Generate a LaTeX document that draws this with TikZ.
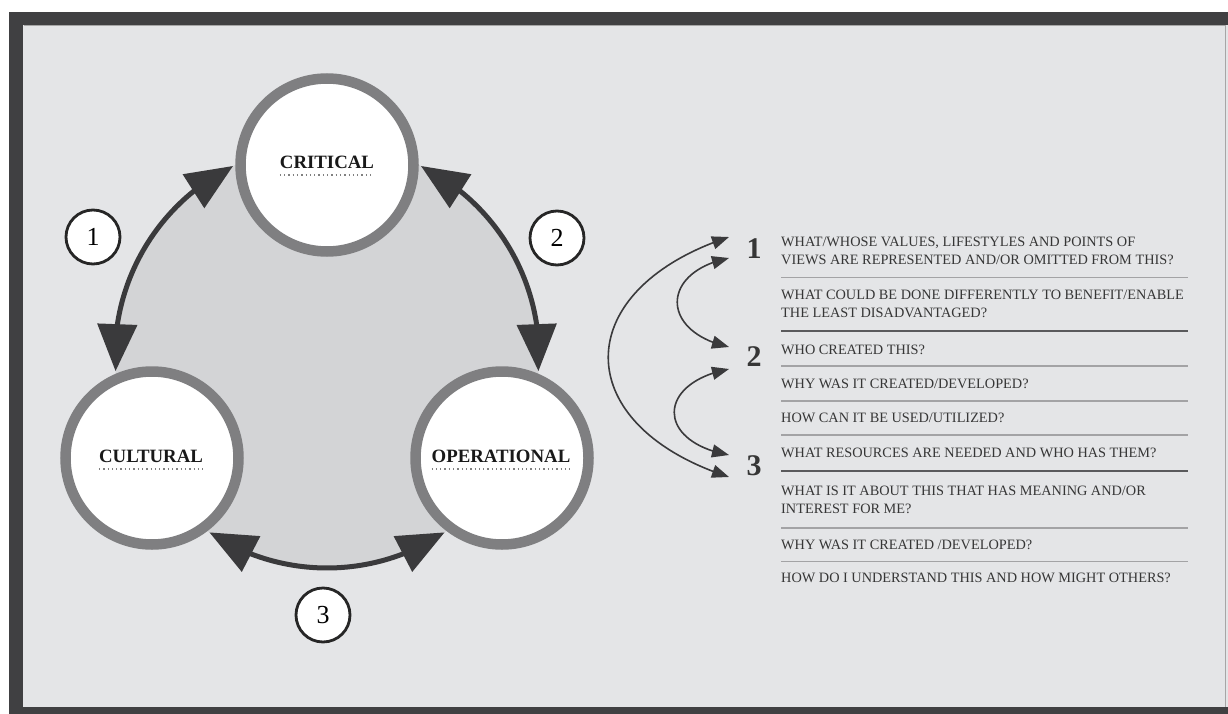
\documentclass[tikz,border=0pt]{standalone}
\usepackage{fontspec}
\setmainfont{Liberation Serif}
\usetikzlibrary{arrows.meta,bending,calc}
\definecolor{framec}{HTML}{404042}
\definecolor{bgc}{HTML}{E4E5E7}
\definecolor{discc}{HTML}{D3D4D6}
\definecolor{ringc}{HTML}{7F7F81}
\definecolor{arrc}{HTML}{3A3A3C}
\definecolor{txtc}{HTML}{363636}
\definecolor{sepc}{HTML}{A3A3A5}
\definecolor{dsepc}{HTML}{5A5A5C}
\begin{document}
\begin{tikzpicture}[x=1pt,y=-1pt,
  bigc/.style={circle,draw=ringc,line width=10.5pt,fill=white,minimum size=173pt,inner sep=0pt},
  lbl/.style={font=\fontsize{18.8}{22}\selectfont\bfseries,text=black!90,inner sep=0pt},
  dotu/.style={draw=black!50,line width=1.3pt,dash pattern=on 1.3pt off 3pt},
  bigarr/.style={draw=arrc,line width=5pt,{Triangle[length=47pt,width=39pt]}-{Triangle[length=47pt,width=39pt]}},
  numc/.style={circle,draw=black!85,line width=2.8pt,fill=white,minimum size=54pt,inner sep=0pt,font=\fontsize{26}{28}\selectfont},
  qtxt/.style={anchor=base west,font=\fontsize{14.3}{16}\selectfont,text=txtc,inner sep=0pt},
  qnum/.style={font=\fontsize{30}{32}\selectfont\bfseries,text=txtc,inner sep=0pt},
  sepl/.style={draw=sepc,line width=1.2pt},
  dsepl/.style={draw=dsepc,line width=2pt},
  qarr/.style={draw=arrc,line width=1.6pt,{Triangle[length=17pt,width=13pt]}-{Triangle[length=17pt,width=13pt]}}]
\useasboundingbox (0,0) rectangle (1228,714);
% frame
\fill[white] (0,0) rectangle (1228,714);
\fill[framec] (9,12) rectangle (1228,714);
\fill[bgc] (23,25) rectangle (1228,707);
\draw[black!35,line width=1pt] (23.5,25.5) -- (1225,25.5) -- (1225,707);
% central disc and arcs (y axis points down, so angles are negated)
\coordinate (C) at (327,356);
\fill[discc] (C) circle (212);
\draw[bigarr] ($(C)+(-116.3:212)$) arc[start angle=-116.3,end angle=-184.1,radius=212];
\draw[bigarr] ($(C)+(-63.7:212)$) arc[start angle=-63.7,end angle=4.1,radius=212];
\draw[bigarr] ($(C)+(56.3:212)$) arc[start angle=56.3,end angle=123.7,radius=212];
% circles
\node[bigc] (crit) at (327,165) {};
\node[bigc] (cult) at (152,458) {};
\node[bigc] (oper) at (502,458) {};
\node[lbl] (critl) at (327,162) {CRITICAL};
\node[lbl] (cultl) at (151,456) {CULTURAL};
\node[lbl] (operl) at (501,456) {OPERATIONAL};
\draw[dotu] ([yshift=-7pt]critl.base west) -- ([yshift=-7pt]critl.base east);
\draw[dotu] ([yshift=-7pt]cultl.base west) -- ([yshift=-7pt]cultl.base east);
\draw[dotu] ([yshift=-7pt]operl.base west) -- ([yshift=-7pt]operl.base east);
% numbered circles
\node[numc] (n1) at (93,237) {1};
\node[numc] (n2) at (557,238) {2};
\node[numc] (n3) at (323,615) {3};
% right side numbers and arrows
\node[qnum] (q1) at (754,249) {1};
\node[qnum] (q2) at (754,357) {2};
\node[qnum] (q3) at (754,466) {3};
\coordinate (t1a) at (729,237);
\coordinate (t1b) at (729,258);
\coordinate (t2a) at (729,347);
\coordinate (t2b) at (729,369);
\coordinate (t3a) at (729,455);
\coordinate (t3b) at (729,477);
\draw[qarr] (t1a) .. controls (568,290) and (568,425) .. (t3b);
\draw[qarr] (t1b) .. controls (660,272) and (660,332) .. (t2a);
\draw[qarr] (t2b) .. controls (656,383) and (656,442) .. (t3a);
% questions
\node[qtxt] (a1) at (781,246.7) {WHAT/WHOSE VALUES, LIFESTYLES AND POINTS OF};
\node[qtxt] (a2) at (781,264.7) {VIEWS ARE REPRESENTED AND/OR OMITTED FROM THIS?};
\draw[sepl] (781,277.5) -- (1188,277.5);
\node[qtxt] (a3) at (781,299.7) {WHAT COULD BE DONE DIFFERENTLY TO BENEFIT/ENABLE};
\node[qtxt] (a4) at (781,317.7) {THE LEAST DISADVANTAGED?};
\draw[dsepl] (781,331) -- (1188,331);
\node[qtxt] (b1) at (781,354.7) {WHO CREATED THIS?};
\draw[sepl] (781,366) -- (1188,366);
\node[qtxt] (b2) at (781,388.7) {WHY WAS IT CREATED/DEVELOPED?};
\draw[sepl] (781,401) -- (1188,401);
\node[qtxt] (b3) at (781,422.7) {HOW CAN IT BE USED/UTILIZED?};
\draw[sepl] (781,435) -- (1188,435);
\node[qtxt] (b4) at (781,457.2) {WHAT RESOURCES ARE NEEDED AND WHO HAS THEM?};
\draw[dsepl] (781,471) -- (1188,471);
\node[qtxt] (c1) at (781,495.7) {WHAT IS IT ABOUT THIS THAT HAS MEANING AND/OR};
\node[qtxt] (c2) at (781,513.7) {INTEREST FOR ME?};
\draw[sepl] (781,528) -- (1188,528);
\node[qtxt] (c3) at (781,549.7) {WHY WAS IT CREATED /DEVELOPED?};
\draw[sepl] (781,561.5) -- (1188,561.5);
\node[qtxt] (c4) at (781,582.7) {HOW DO I UNDERSTAND THIS AND HOW MIGHT OTHERS?};
\end{tikzpicture}
\end{document}
